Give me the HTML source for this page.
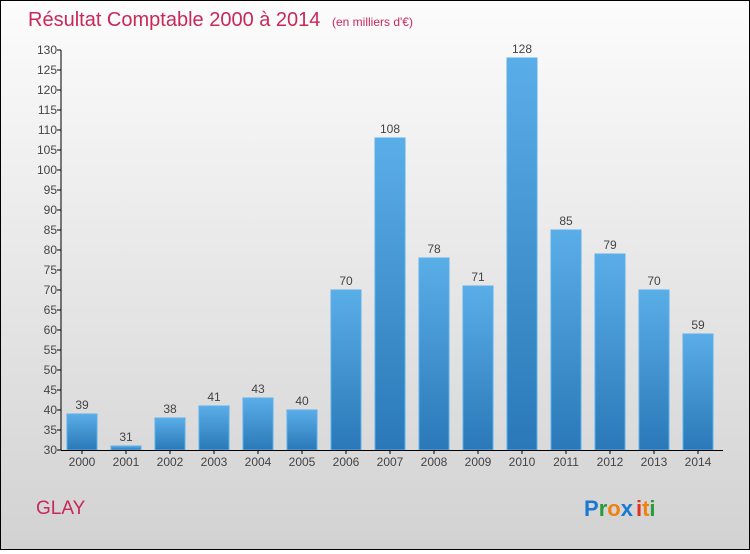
<!DOCTYPE html>
<html><head><meta charset="utf-8"><style>
html,body{margin:0;padding:0}
body{width:750px;height:550px;overflow:hidden;font-family:"Liberation Sans",sans-serif}
#wrap{position:absolute;left:0;top:0;width:748px;height:548px;border:1px solid #000;background:linear-gradient(#fcfcfc,#d2d2d2)}
</style></head><body>
<div id="wrap">
<svg id="chart" width="748" height="548">
<defs><linearGradient id="bg" x1="0" y1="0" x2="0" y2="1"><stop offset="0" stop-color="#5aaee8"/><stop offset="1" stop-color="#2a78b8"/></linearGradient></defs>
<text x="27" y="25" font-size="20" fill="#c8285a">Résultat Comptable 2000 à 2014 <tspan font-size="12" dx="6">(en milliers d'€)</tspan></text>
<text x="35" y="513" font-size="19" fill="#c8285a">GLAY</text>
<text x="583" y="515" font-size="22" font-weight="bold"><tspan fill="#1a78d0">P</tspan><tspan fill="#2a9a3a">r</tspan><tspan fill="#f08010">o</tspan><tspan fill="#1a78d0">x</tspan><tspan fill="#e03020" dx="3">i</tspan><tspan fill="#f08010">t</tspan><tspan fill="#2a9a3a">i</tspan></text>
</svg>
</div>
<script>
const years=["2000","2001","2002","2003","2004","2005","2006","2007","2008","2009","2010","2011","2012","2013","2014"];
const values=[39,31,38,41,43,40,70,108,78,71,128,85,79,70,59];
const yTicks=[30,35,40,45,50,55,60,65,70,75,80,85,90,95,100,105,110,115,120,125,130];
const svg=document.getElementById('chart');
const NS='http://www.w3.org/2000/svg';
const y=v=>449-(v-30)*4;
const x=i=>81+i*44;
function mk(t,a){const e=document.createElementNS(NS,t);for(const k in a)e.setAttribute(k,a[k]);svg.appendChild(e);return e;}
yTicks.forEach(t=>{
 const l=mk('line',{x1:56,x2:60,y1:y(t),y2:y(t),stroke:'#000'});
 
 
 const tx=mk('text',{x:56,y:y(t)+4,'font-size':12,fill:'#444','text-anchor':'end'});
 tx.textContent=t;
 
 
});
values.forEach((v,i)=>{
 const r=mk('rect',{x:x(i)-15,y:y(v),width:30,height:y(30)-y(v),fill:'url(#bg)',stroke:'#5ab0ec','stroke-width':1});
 
 
 const t=mk('text',{x:x(i),y:y(v)-5,'font-size':12,fill:'#444','text-anchor':'middle'});
 t.textContent=v;
 
 
 const tk=mk('line',{x1:x(i),x2:x(i),y1:449,y2:453,stroke:'#000'});
 
 
 const xl=mk('text',{x:x(i),y:465,'font-size':12,fill:'#444','text-anchor':'middle'});
 xl.textContent=years[i];
 
 
});
const ya=mk('line',{x1:60,x2:60,y1:y(130),y2:449.5,stroke:'#000'});


const xa=mk('line',{x1:60,x2:722,y1:449.5,y2:449.5,stroke:'#000'});


</script>
</body></html>
